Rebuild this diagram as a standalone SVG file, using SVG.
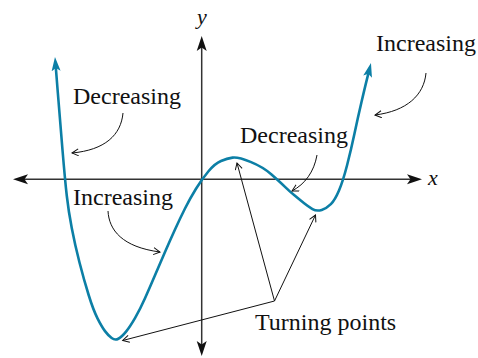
<svg xmlns="http://www.w3.org/2000/svg" width="478" height="358" viewBox="0 0 478 358">
<style>
.axis{stroke:#333;stroke-width:1.5;fill:none}
.curve{stroke:#0c7fa6;stroke-width:2.6;fill:none;stroke-linejoin:round}
.ptr{stroke:#111;stroke-width:1;fill:none}
.lbl{font-family:"Liberation Serif","Times New Roman",serif;font-size:24px;fill:#111}
.var{font-family:"Liberation Serif","Times New Roman",serif;font-size:22px;font-style:italic;fill:#111}
</style>
<defs>
<marker id="axh" markerUnits="userSpaceOnUse" markerWidth="16" markerHeight="12" refX="4" refY="5.5" orient="auto-start-reverse">
<path d="M0,0.5 L15,5.5 L0,10.5 L3.5,5.5 z" fill="#111"/>
</marker>
<marker id="cuh" markerUnits="userSpaceOnUse" markerWidth="16" markerHeight="12" refX="5" refY="5" orient="auto-start-reverse">
<path d="M0,0.5 L14,5 L0,9.5 L3,5 z" fill="#0c7fa6"/>
</marker>
<marker id="oph" markerUnits="userSpaceOnUse" markerWidth="10" markerHeight="10" refX="7" refY="4" orient="auto">
<path d="M0.5,0.5 L7,4 L0.5,7.5" fill="none" stroke="#111" stroke-width="1"/>
</marker>
</defs>
<g id="axes">
<path class="axis" d="M24,179.3 L411,179.3" marker-start="url(#axh)" marker-end="url(#axh)"/>
<path class="axis" d="M201.7,47 L201.7,345" marker-start="url(#axh)" marker-end="url(#axh)"/>
<text class="var" x="202" y="24" text-anchor="middle">y</text>
<text class="var" x="433" y="185" text-anchor="middle">x</text>
</g>
<g id="curve">
<path class="curve" marker-start="url(#cuh)" marker-end="url(#cuh)" d="M55.7,66 L57.85,93 Q60,120 62.5,150 Q65,180 66.75,195.5 Q68.5,211 71.75,228 Q75,245 79.5,262.5 Q84,280 88.65,295 Q93.3,310 97.5,318.35 Q101.7,326.7 105,331.1 Q108.3,335.5 111.65,338 Q115,340.5 118.35,338.75 Q121.7,337 125.85,331.85 Q130,326.7 135,318.1 Q140,309.5 145,298.25 Q150,287 155,275.25 Q160,263.5 165,252 Q170,240.5 175,229.5 Q180,218.5 185,208.5 Q190,198.5 196,188.75 Q202,179 208.5,171.25 Q215,163.5 221,161 Q227,158.5 232.5,157.65 Q238,156.8 250.5,161.9 Q263,167 271.5,174.5 Q280,182 285,186.85 Q290,191.7 295,195.85 Q300,200 304.15,203.35 Q308.3,206.7 312.5,209.1 Q316.7,211.5 321.7,209.9 Q326.7,208.3 330.85,204.15 Q335,200 339,190.5 Q343,181 347,165.5 Q351,150 354.5,133.5 Q358,117 361.5,102 Q365,87 366.9,79.35 L368.8,71.7"/>
</g>
<g id="connectors">
<path class="ptr" d="M123,113 C121,135 105,150 72,153" marker-end="url(#oph)"/>
<path class="ptr" d="M426,73 C424,95 407,111 375,115" marker-end="url(#oph)"/>
<path class="ptr" d="M317,155 C314,172 305,184 292,191" marker-end="url(#oph)"/>
<path class="ptr" d="M108,211 C109,230 122,247 160,252" marker-end="url(#oph)"/>
<path class="ptr" d="M274.5,301 L122.7,340.5" marker-end="url(#oph)"/>
<path class="ptr" d="M274.5,301 L237,163" marker-end="url(#oph)"/>
<path class="ptr" d="M274.5,301 L315.5,215" marker-end="url(#oph)"/>
</g>
<g id="label-decreasing-left"><text class="lbl" x="73" y="104">Decreasing</text></g>
<g id="label-increasing-right"><text class="lbl" x="376" y="51">Increasing</text></g>
<g id="label-decreasing-mid"><text class="lbl" x="240" y="142.5">Decreasing</text></g>
<g id="label-increasing-left"><text class="lbl" x="73" y="205">Increasing</text></g>
<g id="label-turning"><text class="lbl" x="255" y="330">Turning points</text></g>
</svg>
